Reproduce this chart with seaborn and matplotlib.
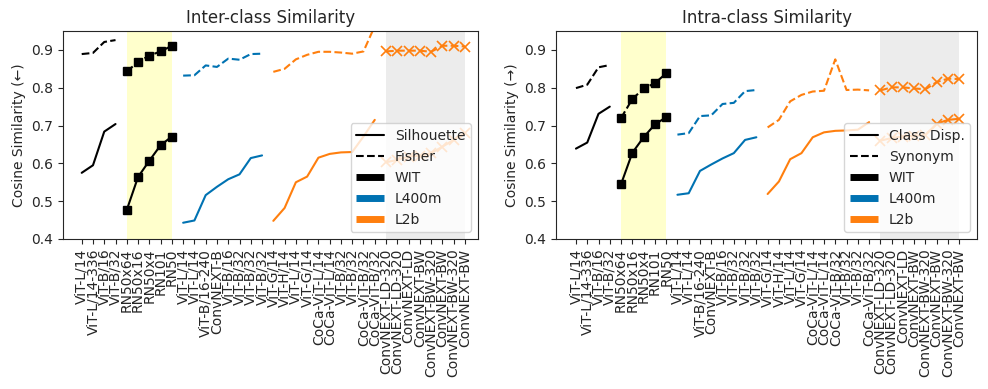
import numpy as np
import pandas as pd
import seaborn as sns
import matplotlib.pyplot as plt
from matplotlib.lines import Line2D

sns.set_style("ticks")
plt.rcParams['font.family'] = ['DejaVu Sans']

# tick labels (model names) for each panel
inter_labels = ["ViT-L/14", "ViT-L/14-336", "ViT-B/16", "ViT-B/32",
                "RN50x64", "RN50x16", "RN50x4", "RN101", "RN50",
                "ViT-L/14", "ViT-L/14", "ViT-B/16-240", "ConvNEXT-B", "ViT-B/16", "ViT-B/32", "ViT-B/32", "ViT-B/32",
                "ViT-G/14", "ViT-H/14", "ViT-L/14", "ViT-G/14", "CoCa-ViT-L/14", "CoCa-ViT-L/14",
                "ViT-B/32", "ViT-B/32", "CoCa-ViT-B/32", "CoCa-ViT-B/32",
                "ConvNEXT-LD-320", "ConvNEXT-LD-320", "ConvNEXT-LD", "ConvNEXT-BW", "ConvNEXT-BW-320",
                "ConvNEXT-BW", "ConvNEXT-BW-320", "ConvNEXT-BW"]
intra_labels = ["ViT-L/14", "ViT-L/14-336", "ViT-B/16", "ViT-B/32",
                "RN50x64", "RN50x16", "RN50x4", "RN101", "RN50",
                "ViT-L/14", "ViT-L/14", "ViT-B/16-240", "ConvNEXT-B", "ViT-B/16", "ViT-B/32", "ViT-B/32", "ViT-B/32",
                "ViT-G/14", "ViT-H/14", "ViT-L/14", "ViT-G/14", "CoCa-ViT-L/14", "CoCa-ViT-L/14",
                "CoCa-ViT-B/32", "ViT-B/32", "ViT-B/32", "CoCa-ViT-B/32",
                "ConvNEXT-LD-320", "ConvNEXT-LD-320", "ConvNEXT-LD", "ConvNEXT-BW", "ConvNEXT-BW-320",
                "ConvNEXT-BW", "ConvNEXT-BW-320", "ConvNEXT-BW"]

# groups: WIT ViT (4), WIT RN (5), L400m (8), L2b (10), L2b ConvNEXT (8)
group_sizes = [4, 5, 8, 10, 8]
group_colors = ["black", "black", "#0072B2", "#FF7F0E", "#FF7F0E"]
group_markers = [None, "s", None, None, "x"]

# inter-class: silhouette (solid) and fisher (dashed)
inter_silhouette = [0.575, 0.595, 0.684, 0.704,
                    0.477, 0.564, 0.607, 0.648, 0.671,
                    0.443, 0.449, 0.516, 0.538, 0.558, 0.571, 0.614, 0.621,
                    0.448, 0.482, 0.550, 0.565, 0.615, 0.625, 0.629, 0.630, 0.671, 0.715,
                    0.603, 0.609, 0.618, 0.620, 0.627, 0.644, 0.662, 0.680]
inter_fisher = [0.889, 0.892, 0.921, 0.926,
                0.843, 0.868, 0.885, 0.896, 0.911,
                0.832, 0.833, 0.859, 0.855, 0.877, 0.874, 0.889, 0.890,
                0.842, 0.850, 0.875, 0.887, 0.895, 0.895, 0.893, 0.890, 0.896, 0.963,
                0.896, 0.898, 0.898, 0.898, 0.895, 0.911, 0.911, 0.909]

# intra-class: class dispersion (solid) and synonym (dashed)
intra_classdisp = [0.639, 0.655, 0.731, 0.750,
                   0.545, 0.628, 0.669, 0.703, 0.722,
                   0.517, 0.521, 0.580, 0.597, 0.613, 0.627, 0.662, 0.669,
                   0.519, 0.552, 0.611, 0.627, 0.669, 0.682, 0.686, 0.687, 0.689, 0.709,
                   0.660, 0.667, 0.671, 0.673, 0.675, 0.705, 0.715, 0.718]
intra_synonym = [0.799, 0.808, 0.854, 0.860,
                 0.720, 0.770, 0.798, 0.812, 0.838,
                 0.676, 0.680, 0.725, 0.727, 0.757, 0.760, 0.791, 0.794,
                 0.695, 0.715, 0.764, 0.781, 0.790, 0.792, 0.875, 0.794, 0.795, 0.793,
                 0.793, 0.801, 0.801, 0.798, 0.796, 0.815, 0.824, 0.823]

W, H = 988, 389
fig = plt.figure(figsize=(W / 100, H / 100), dpi=100)
ax1 = fig.add_axes([63 / W, 1 - 239 / H, (478 - 63) / W, (239 - 31) / H])
ax2 = fig.add_axes([556 / W, 1 - 239 / H, (977 - 556) / W, (239 - 31) / H])


def draw_panel(ax, labels, solid, dashed, title, ylabel, solid_name, dashed_name, xlim):
    ax.axvspan(4, 8, color="yellow", alpha=0.2, lw=0)
    ax.axvspan(27, 34, color="gray", alpha=0.15, lw=0)
    start = 0
    for n, c, m in zip(group_sizes, group_colors, group_markers):
        x = np.arange(start, start + n)
        for vals, ls in [(solid, "-"), (dashed, "--")]:
            sns.lineplot(x=x, y=vals[start:start + n], ax=ax, color=c, linestyle=ls,
                         marker=m, markersize=7 if m == "x" else 6,
                         markeredgewidth=1.2 if m == "x" else 1.0,
                         markeredgecolor=c, lw=1.5, legend=False)
        start += n
    ax.set_xticks(np.arange(len(labels)))
    ax.set_xticklabels(labels, rotation=90, fontsize=10)
    ax.set_ylim(0.4, 0.95)
    ax.set_yticks([0.4, 0.5, 0.6, 0.7, 0.8, 0.9])
    ax.tick_params(axis="y", labelsize=10)
    ax.set_xlim(*xlim)
    ax.set_title(title, fontsize=12)
    ax.set_ylabel(ylabel, fontsize=10)
    ax.set_xlabel("")
    handles = [Line2D([], [], color="black", lw=1.5, ls="-"),
               Line2D([], [], color="black", lw=1.5, ls="--"),
               Line2D([], [], color="black", lw=5, solid_capstyle="butt"),
               Line2D([], [], color="#0072B2", lw=5, solid_capstyle="butt"),
               Line2D([], [], color="#FF7F0E", lw=5, solid_capstyle="butt")]
    ax.legend(handles, [solid_name, dashed_name, "WIT", "L400m", "L2b"],
              loc="lower right", fontsize=10)


draw_panel(ax1, inter_labels, inter_silhouette, inter_fisher, "Inter-class Similarity",
           "Cosine Similarity (←)", "Silhouette", "Fisher", (-1.66, 35.16))
draw_panel(ax2, intra_labels, intra_classdisp, intra_synonym, "Intra-class Similarity",
           "Cosine Similarity (→)", "Class Disp.", "Synonym", (-1.77, 35.57))

fig.savefig("out.png", dpi=100)
